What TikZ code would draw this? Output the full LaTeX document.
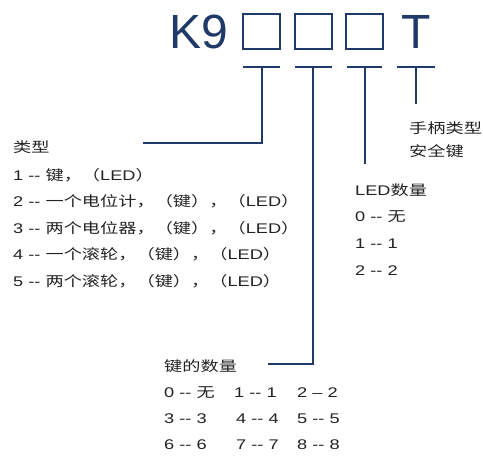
\documentclass[tikz,border=0pt]{standalone}
\usepackage{fontspec}
\setmainfont{Liberation Sans}
\newfontfamily\bodyfont[FakeStretch=1.3]{Liberation Sans}
\newfontfamily\cjk[FakeStretch=1.3]{Noto Sans CJK SC}
\newcommand\zh[1]{{\cjk #1}}
\newcommand\dd{-{}-}
\definecolor{navy}{HTML}{1F3A68}
\definecolor{txt}{HTML}{222222}
\begin{document}
\begin{tikzpicture}[x=1pt,y=-1pt,
 lbl/.style={anchor=base west, inner sep=0pt, font=\bodyfont\fontsize{14}{17}\selectfont, text=txt},
 conn/.style={draw=navy, line width=2pt},
 slot/.style={draw=navy, line width=2pt, minimum width=37pt, minimum height=35pt, inner sep=0pt},
 big/.style={font=\fontsize{48}{50}\selectfont, text=navy, inner sep=0pt, anchor=base west}]
\useasboundingbox (0,0) rectangle (483,459);
% header
\node[big] (k9) at (169,48) {K9};
\node[slot] (b1) at (261.5,31.5) {};
\node[slot] (b2) at (313.5,31.5) {};
\node[slot] (b3) at (364.5,31.5) {};
\node[big] (tt) at (401,48) {T};
% T-bar coordinates
\coordinate (l1) at (243,67); \coordinate (r1) at (280,67); \coordinate (m1) at (262,67);
\coordinate (l2) at (295,67); \coordinate (r2) at (332,67); \coordinate (m2) at (313,67);
\coordinate (l3) at (347,67); \coordinate (r3) at (382,67); \coordinate (m3) at (365,67);
\coordinate (l4) at (397,67); \coordinate (r4) at (435,67); \coordinate (m4) at (416,67);
\coordinate (e1) at (143,143);
\coordinate (e2) at (268,364);
\coordinate (e3) at (365,164);
\coordinate (e4) at (416,104);
% labels
\node[lbl] (typ) at (13,152) {\zh{类型}};
\node[lbl] (t1) at (13,180) {1 \dd{} \zh{键，（}LED\zh{）}};
\node[lbl] (t2) at (13,206) {2 \dd{} \zh{一个电位计，（键），（}LED\zh{）}};
\node[lbl] (t3) at (13,233) {3 \dd{} \zh{两个电位器，（键），（}LED\zh{）}};
\node[lbl] (t4) at (13,259) {4 \dd{} \zh{一个滚轮，（键），（}LED\zh{）}};
\node[lbl] (t5) at (13,286) {5 \dd{} \zh{两个滚轮，（键），（}LED\zh{）}};
\node[lbl] (hd1) at (409,133) {\zh{手柄类型}};
\node[lbl] (hd2) at (409,156) {\zh{安全键}};
\node[lbl] (led) at (355,195) {LED\zh{数量}};
\node[lbl] (led0) at (355,221) {0 \dd{} \zh{无}};
\node[lbl] (led1) at (355,248) {1 \dd{} 1};
\node[lbl] (led2) at (355,275) {2 \dd{} 2};
\node[lbl] (key) at (164,371) {\zh{键的数量}};
\node[lbl] (k0) at (164,397) {0 \dd{} \zh{无}};
\node[lbl] (k1) at (234,397) {1 \dd{} 1};
\node[lbl] (k2) at (297,397) {2 \textendash{} 2};
\node[lbl] (k3) at (164,423) {3 \dd{} 3};
\node[lbl] (k4) at (236,423) {4 \dd{} 4};
\node[lbl] (k5) at (297,423) {5 \dd{} 5};
\node[lbl] (k6) at (164,449) {6 \dd{} 6};
\node[lbl] (k7) at (236,449) {7 \dd{} 7};
\node[lbl] (k8) at (297,449) {8 \dd{} 8};
% connectors
\draw[conn] (l1) -- (r1); \draw[conn] (m1) |- (e1);
\draw[conn] (l2) -- (r2); \draw[conn] (m2) |- (e2);
\draw[conn] (l3) -- (r3); \draw[conn] (m3) -- (e3);
\draw[conn] (l4) -- (r4); \draw[conn] (m4) -- (e4);
\end{tikzpicture}
\end{document}
